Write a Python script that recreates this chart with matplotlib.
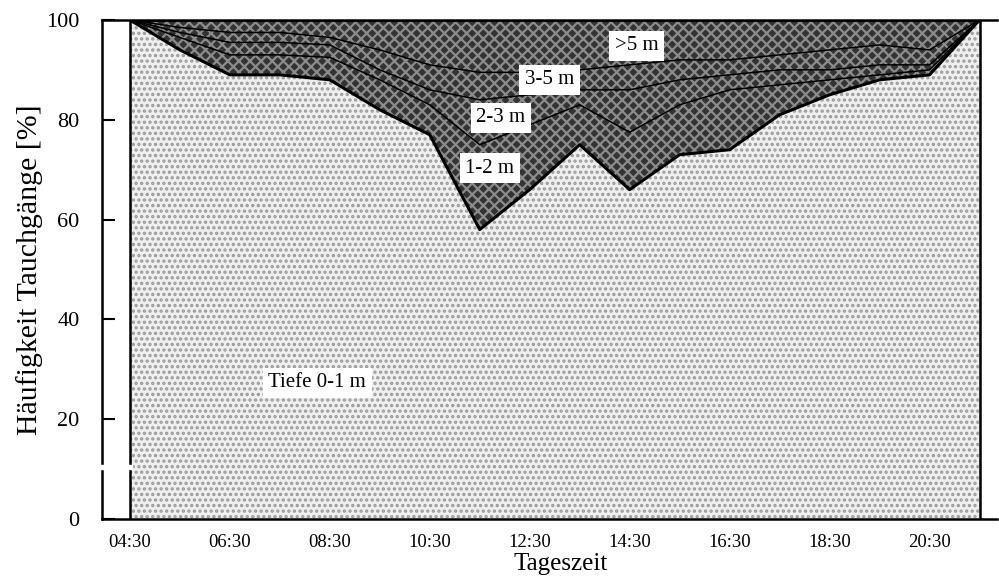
import matplotlib
matplotlib.use("Agg")
import matplotlib.pyplot as plt

# ---- data (cumulative share of dives, %) ----
times = ["04:30", "05:30", "06:30", "07:30", "08:30", "09:30", "10:30", "11:30", "12:30",
         "13:30", "14:30", "15:30", "16:30", "17:30", "18:30", "19:30", "20:30", "21:30"]
cum_0_1 = [100, 94, 89, 89, 88, 82, 77, 58, 66, 75, 66, 73, 74, 81, 85, 88, 89, 100]
cum_0_2 = [100, 96.5, 93, 93, 92.5, 88, 83, 75, 79, 83, 77.5, 83, 86, 87, 88, 89, 90, 100]
cum_0_3 = [100, 97.5, 95.5, 95.5, 95, 90, 86, 84, 85, 86, 86, 88, 89, 90, 90, 91, 91, 100]
cum_0_5 = [100, 98.5, 97.5, 97.5, 96.5, 94, 91, 89.5, 89.5, 90, 91, 92, 92, 93, 94, 95, 94, 100]
tick_labels = ["04:30", "06:30", "08:30", "10:30", "12:30", "14:30", "16:30", "18:30", "20:30"]
y_ticks = [0, 20, 40, 60, 80, 100]
layer_labels = ["Tiefe 0-1 m", "1-2 m", "2-3 m", "3-5 m", ">5 m"]


def to_hours(t):
    h, m = t.split(":")
    return int(h) + int(m) / 60.0


x = [to_hours(t) for t in times]
xt = [to_hours(t) for t in tick_labels]

plt.rcParams["font.family"] = ["Liberation Serif", "DejaVu Serif"]
plt.rcParams["hatch.linewidth"] = 1.6

fig = plt.figure(figsize=(9.99, 5.78), dpi=100)
ax = fig.add_axes([0.102, 0.102, 0.896, 0.8635])

# light bottom layer (0-1 m)
ax.fill_between(x, 0, cum_0_1, facecolor="#efefef", edgecolor="#9a9a9a",
                hatch="...", linewidth=0, zorder=1)
# dark upper layers
ax.fill_between(x, cum_0_1, 100, facecolor="#333333", edgecolor="#8c8c8c",
                hatch="xxx", linewidth=0, zorder=1)

# layer boundaries
ax.plot(x, cum_0_1, color="black", lw=2.2, zorder=3)
for cum in (cum_0_2, cum_0_3, cum_0_5):
    ax.plot(x, cum, color="black", lw=1.1, zorder=2)
ax.plot(x, [100] * len(x), color="black", lw=1.8, zorder=3)
ax.axvline(x[0], color="black", lw=1.8, zorder=3)
ax.axvline(x[-1], color="black", lw=1.8, zorder=3)

# labels in boxes
box = dict(facecolor="white", edgecolor="none", pad=4)
label_pos = [(8.25, 27.3), (11.7, 70.3), (11.92, 80.4), (12.9, 88.0), (14.64, 94.8)]
for txt, (lx, ly) in zip(layer_labels, label_pos):
    ax.text(lx, ly, txt, ha="center", va="center", fontsize=15, bbox=box, zorder=5)

ax.set_xlim(3.94, 21.85)
ax.set_ylim(0, 100)
ax.set_xticks(xt)
ax.set_xticklabels(tick_labels, fontsize=13.5)
ax.set_yticks(y_ticks)
ax.set_yticklabels([str(v) for v in y_ticks], fontsize=16)
ax.tick_params(axis="x", length=0, pad=11)
ax.tick_params(axis="y", direction="in", length=9, width=1.5, pad=16)

for s in ("left", "bottom", "top"):
    ax.spines[s].set_linewidth(1.8)
ax.spines["right"].set_visible(False)

# small break in the left axis line
ax.axhspan(10.0, 10.9, xmin=-0.01, xmax=0.034, color="white", zorder=6, clip_on=False)

ax.set_xlabel("Tageszeit", fontsize=18)
ax.xaxis.set_label_coords(0.512, -0.068)
ax.set_ylabel("Häufigkeit Tauchgänge [%]", fontsize=21.5)
ax.yaxis.set_label_coords(-0.066, 0.5)

fig.savefig("out.png", dpi=100)
